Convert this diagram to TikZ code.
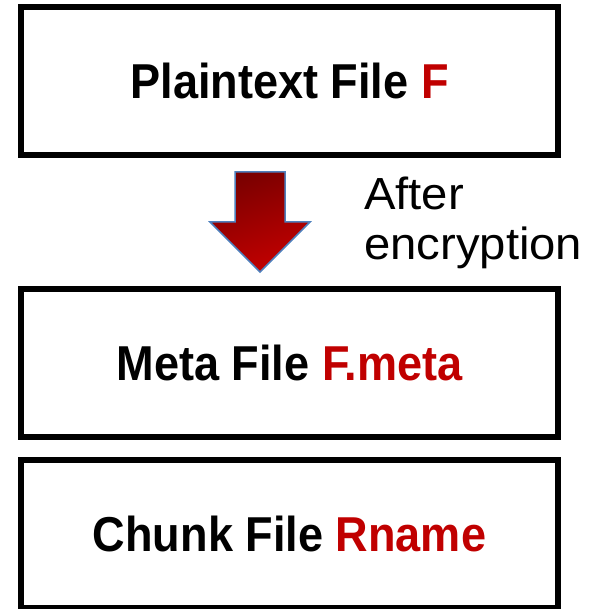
\documentclass[tikz,border=0pt]{standalone}
\usepackage{fontspec}
\setmainfont{Liberation Sans}
\newfontfamily\boxfont{Liberation Sans}[FakeStretch=0.92]
\newfontfamily\notefont{Liberation Sans}[FakeStretch=1.05]
\usepackage{tikz}
\usetikzlibrary{positioning}
\usepackage{xcolor}
\definecolor{keyred}{HTML}{C00000}
\definecolor{arrowdark}{HTML}{7A0000}
\definecolor{arrowlight}{HTML}{C40000}
\definecolor{arrowedge}{HTML}{4F81BD}

\begin{document}
\begin{tikzpicture}[x=1pt, y=1pt, node distance={128pt},
  file/.style = {draw, line width=6pt, minimum width=537pt, minimum height=148pt, font=\boxfont\fontsize{49}{52}\selectfont\bfseries}]
\useasboundingbox (0,0) rectangle (605,-609);
\node[file] (plain) at (289.5,-81.3) {Plaintext File \textcolor{keyred}{F}};
\node[file] (meta) [below=of plain] {Meta File \textcolor{keyred}{F.meta}};
\node[file] (chunk) [below=17pt of meta] {Chunk File \textcolor{keyred}{Rname}};
% block arrow between the plaintext and the meta file
\coordinate (tip) at (260,-272);
\shadedraw[top color=arrowdark, bottom color=arrowlight, shading angle=20, draw=arrowedge, line width=1.5pt]
  (tip) -- ++(-50,50) -- ++(25,0) -- ++(0,50) -- ++(50,0) -- ++(0,-50) -- ++(25,0) -- cycle;
\node[align=left, anchor=north west, inner sep=0pt, font=\notefont\fontsize{45}{50}\selectfont] (note) at (364,-177) {After\\encryption};
\end{tikzpicture}
\end{document}
